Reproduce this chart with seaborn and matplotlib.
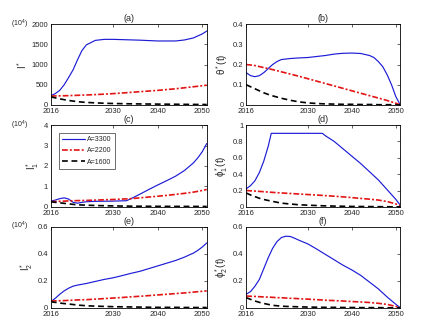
import numpy as np
import pandas as pd
import seaborn as sns
import matplotlib.pyplot as plt

# --- DATA ---
SERIES = ["A=3300", "A=2200", "A=1600"]

# (a) I*  (x 10^4)
YR_A = [2016, 2017, 2018, 2019, 2020, 2021, 2022, 2023, 2024, 2026, 2028, 2030, 2033, 2036, 2040, 2044, 2046, 2048, 2050, 2051]
A_3300 = [230, 280, 360, 500, 680, 870, 1120, 1350, 1490, 1600, 1625, 1625, 1615, 1605, 1585, 1585, 1610, 1660, 1760, 1830]
A_2200 = [220, 222, 225, 227, 230, 234, 238, 242, 246, 256, 267, 280, 303, 328, 360, 400, 425, 450, 475, 490]
A_1600 = [200, 175, 150, 130, 110, 95, 82, 70, 62, 50, 42, 35, 29, 24, 20, 16, 14, 12, 11, 10]

# (b) theta*(t)
YR_B = [2016, 2017, 2018, 2019, 2020, 2021, 2022, 2023, 2024, 2026, 2028, 2030, 2032, 2034, 2036, 2038, 2040, 2042, 2044, 2045, 2046, 2047, 2048, 2049, 2050, 2051]
B_3300 = [0.16, 0.145, 0.14, 0.145, 0.16, 0.18, 0.2, 0.215, 0.225, 0.23, 0.233, 0.235, 0.24, 0.245, 0.252, 0.256, 0.257, 0.255, 0.245, 0.235, 0.215, 0.19, 0.15, 0.1, 0.04, 0.0]
B_2200 = [0.2, 0.198, 0.195, 0.19, 0.185, 0.18, 0.175, 0.17, 0.164, 0.153, 0.142, 0.13, 0.118, 0.106, 0.094, 0.082, 0.07, 0.058, 0.046, 0.04, 0.034, 0.028, 0.022, 0.015, 0.008, 0.0]
B_1600 = [0.1, 0.09, 0.08, 0.07, 0.06, 0.052, 0.045, 0.039, 0.033, 0.023, 0.015, 0.01, 0.007, 0.005, 0.004, 0.003, 0.003, 0.002, 0.002, 0.002, 0.001, 0.001, 0.001, 0.001, 0.0, 0.0]

# (c) I1*  (x 10^4)
YR_C = [2016, 2017, 2018, 2019, 2020, 2021, 2022, 2023, 2024, 2026, 2030, 2033, 2034, 2036, 2038, 2040, 2042, 2044, 2046, 2048, 2049, 2050, 2051]
C_3300 = [0.28, 0.33, 0.4, 0.44, 0.38, 0.22, 0.18, 0.22, 0.25, 0.27, 0.28, 0.3, 0.4, 0.62, 0.85, 1.07, 1.28, 1.5, 1.78, 2.15, 2.4, 2.7, 3.1]
C_2200 = [0.25, 0.26, 0.27, 0.28, 0.29, 0.3, 0.305, 0.31, 0.315, 0.33, 0.36, 0.39, 0.4, 0.44, 0.48, 0.52, 0.56, 0.61, 0.66, 0.72, 0.76, 0.8, 0.85]
C_1600 = [0.25, 0.22, 0.2, 0.17, 0.15, 0.12, 0.1, 0.09, 0.08, 0.065, 0.045, 0.035, 0.033, 0.03, 0.027, 0.025, 0.023, 0.022, 0.021, 0.02, 0.02, 0.02, 0.02]

# (d) phi1*(t)
YR_D = [2016, 2017, 2018, 2019, 2020, 2021, 2021.7, 2024, 2028, 2033.3, 2034, 2036, 2038, 2040, 2042, 2044, 2046, 2048, 2050, 2051]
D_3300 = [0.22, 0.26, 0.32, 0.42, 0.56, 0.74, 0.9, 0.9, 0.9, 0.9, 0.87, 0.8, 0.71, 0.62, 0.53, 0.43, 0.33, 0.21, 0.09, 0.02]
D_2200 = [0.2, 0.196, 0.193, 0.189, 0.185, 0.181, 0.178, 0.17, 0.157, 0.14, 0.137, 0.13, 0.122, 0.113, 0.103, 0.094, 0.083, 0.065, 0.035, 0.012]
D_1600 = [0.17, 0.145, 0.125, 0.105, 0.09, 0.078, 0.07, 0.045, 0.025, 0.013, 0.012, 0.009, 0.007, 0.005, 0.004, 0.003, 0.002, 0.001, 0.0, 0.0]

# (e) I2*  (x 10^4)
YR_E = [2016, 2017, 2018, 2019, 2020, 2021, 2022, 2024, 2026, 2028, 2030, 2032, 2034, 2036, 2038, 2040, 2042, 2044, 2046, 2048, 2049, 2050, 2051]
E_3300 = [0.045, 0.07, 0.1, 0.125, 0.145, 0.16, 0.168, 0.18, 0.195, 0.21, 0.222, 0.238, 0.255, 0.27, 0.29, 0.31, 0.33, 0.35, 0.375, 0.405, 0.425, 0.45, 0.48]
E_2200 = [0.05, 0.051, 0.052, 0.053, 0.055, 0.056, 0.058, 0.06, 0.064, 0.068, 0.072, 0.076, 0.081, 0.085, 0.09, 0.095, 0.1, 0.105, 0.11, 0.116, 0.119, 0.122, 0.125]
E_1600 = [0.045, 0.04, 0.035, 0.031, 0.028, 0.024, 0.02, 0.015, 0.012, 0.01, 0.008, 0.007, 0.006, 0.005, 0.004, 0.003, 0.003, 0.003, 0.002, 0.002, 0.002, 0.002, 0.002]

# (f) phi2*(t)
YR_F = [2016, 2017, 2018, 2019, 2020, 2021, 2022, 2023, 2024, 2025, 2026, 2027, 2028, 2030, 2032, 2034, 2036, 2038, 2040, 2042, 2044, 2046, 2048, 2050, 2051]
F_3300 = [0.1, 0.12, 0.16, 0.21, 0.29, 0.37, 0.44, 0.49, 0.52, 0.53, 0.528, 0.515, 0.5, 0.473, 0.435, 0.395, 0.355, 0.315, 0.28, 0.24, 0.19, 0.14, 0.08, 0.025, 0.0]
F_2200 = [0.087, 0.085, 0.084, 0.082, 0.08, 0.079, 0.077, 0.075, 0.074, 0.072, 0.07, 0.069, 0.067, 0.064, 0.06, 0.056, 0.053, 0.05, 0.046, 0.043, 0.039, 0.033, 0.025, 0.01, 0.0]
F_1600 = [0.075, 0.062, 0.05, 0.04, 0.032, 0.025, 0.018, 0.015, 0.012, 0.01, 0.009, 0.008, 0.007, 0.005, 0.004, 0.003, 0.003, 0.002, 0.002, 0.001, 0.001, 0.001, 0.0, 0.0, 0.0]

X_TICKS = [2016, 2030, 2040, 2050]

# --- STYLE ---
sns.set_theme(style="white")
plt.rcParams["font.family"] = ["Liberation Sans", "DejaVu Sans"]
plt.rcParams["mathtext.fontset"] = "custom"
plt.rcParams["mathtext.rm"] = "Liberation Sans"
plt.rcParams["mathtext.it"] = "Liberation Sans:italic"
plt.rcParams["font.size"] = 5.5

PALETTE = {"A=3300": "#1c1cd6", "A=2200": "#e31414", "A=1600": "#000000"}
DASHES = {"A=3300": "", "A=2200": (3.5, 1.2, 1.2, 1.2), "A=1600": (3.5, 2.2)}
SIZES = {"A=3300": 0.85, "A=2200": 1.2, "A=1600": 1.2}


def long_frame(years, blue, red, black):
    parts = []
    for name, vals in zip(SERIES, [blue, red, black]):
        parts.append(pd.DataFrame({"year": years, "value": vals, "A": name}))
    return pd.concat(parts, ignore_index=True)


panels = [
    ("(a)", long_frame(YR_A, A_3300, A_2200, A_1600), r"$\mathregular{I^*}$", (0, 2000), [0, 500, 1000, 1500, 2000], True),
    ("(b)", long_frame(YR_B, B_3300, B_2200, B_1600), r"$\mathregular{\theta^*(t)}$", (0, 0.4), [0, 0.1, 0.2, 0.3, 0.4], False),
    ("(c)", long_frame(YR_C, C_3300, C_2200, C_1600), r"$\mathregular{I_1^*}$", (0, 4), [0, 1, 2, 3, 4], True),
    ("(d)", long_frame(YR_D, D_3300, D_2200, D_1600), r"$\mathregular{\phi_1^*(t)}$", (0, 1), [0, 0.2, 0.4, 0.6, 0.8, 1], False),
    ("(e)", long_frame(YR_E, E_3300, E_2200, E_1600), r"$\mathregular{I_2^*}$", (0, 0.6), [0, 0.2, 0.4, 0.6], True),
    ("(f)", long_frame(YR_F, F_3300, F_2200, F_1600), r"$\mathregular{\phi_2^*(t)}$", (0, 0.6), [0, 0.2, 0.4, 0.6], False),
]

# axes rectangles in figure fractions (left, bottom, width, height)
LEFTS = [0.116, 0.562]
WIDTHS = [0.356, 0.352]
BOTTOMS = [0.684, 0.377, 0.073]
HEIGHTS = [0.243, 0.246, 0.244]

fig = plt.figure(figsize=(4.38, 3.32), dpi=100)

for i, (title, df, ylab, ylim, yticks, scaled) in enumerate(panels):
    row, col = divmod(i, 2)
    ax = fig.add_axes([LEFTS[col], BOTTOMS[row], WIDTHS[col], HEIGHTS[row]])
    sns.lineplot(
        data=df, x="year", y="value", hue="A", style="A", size="A",
        hue_order=SERIES, style_order=SERIES, size_order=SERIES,
        palette=PALETTE, dashes=DASHES, sizes=SIZES,
        estimator=None, sort=False, legend=(title == "(c)"), ax=ax,
    )
    ax.set_xlim(2016, 2051)
    ax.set_ylim(*ylim)
    ax.set_xticks(X_TICKS)
    ax.set_yticks(yticks)
    ax.set_yticklabels([f"{t:g}" for t in yticks])
    ax.set_xlabel("")
    ax.set_ylabel(ylab, fontsize=7, labelpad=2)
    ax.set_title(title, fontsize=6.5, pad=2)
    ax.tick_params(direction="in", length=2, width=0.5, top=True, right=True,
                   labelsize=5.5)
    ax.tick_params(axis="x", pad=2.5)
    ax.tick_params(axis="y", pad=2)
    for sp in ax.spines.values():
        sp.set_linewidth(0.6)
        sp.set_color("black")
    if scaled:
        ax.text(-0.145, 1.0, r"(10$^4$)", transform=ax.transAxes,
                ha="right", va="center", fontsize=5)
    if title == "(c)":
        handles, labels = ax.get_legend_handles_labels()
        leg = ax.legend(handles, labels, loc="upper left", fontsize=5,
                        frameon=True, fancybox=False, handlelength=3.2,
                        borderpad=0.5, labelspacing=0.6, handletextpad=0.3,
                        bbox_to_anchor=(0.03, 0.95))
        leg.get_frame().set_edgecolor("black")
        leg.get_frame().set_linewidth(0.5)

fig.savefig("out.png", dpi=100)
